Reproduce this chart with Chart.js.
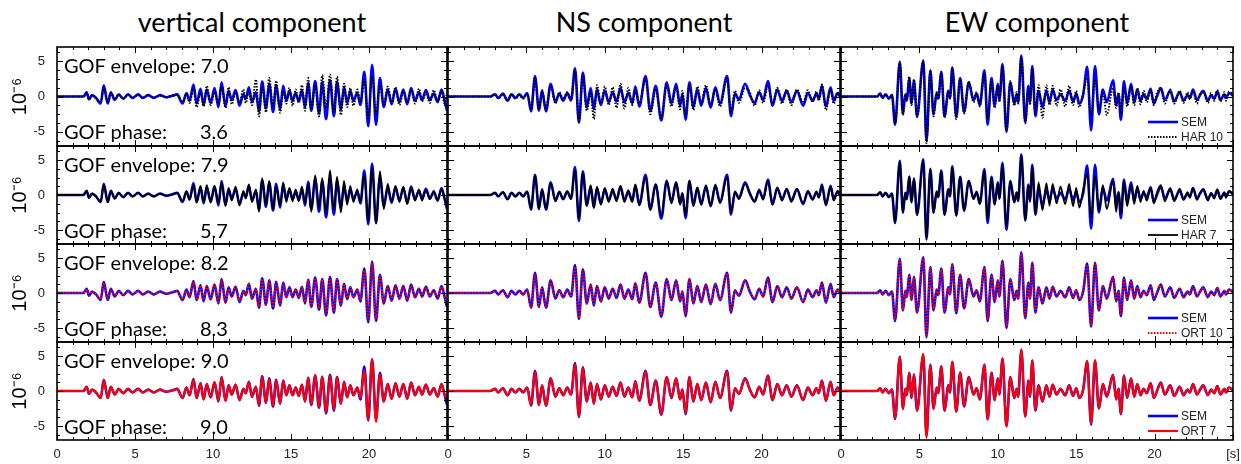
<!DOCTYPE html>
<html>
<head>
<meta charset="utf-8">
<script src="https://cdn.jsdelivr.net/npm/chart.js@4.4.0/dist/chart.umd.min.js"></script>
<style>
  body { margin: 0; background: #fff; }
  #page { position: relative; width: 1241px; height: 464px; overflow: hidden; font-family: Lato, "Open Sans", sans-serif; }
  canvas { position: absolute; }
  .title { position: absolute; top: 6px; font-size: 27px; line-height: 32px; transform: translateX(-50%); white-space: nowrap; }
  .gof { position: absolute; left: 64px; font-size: 20px; line-height: 22px; white-space: nowrap; }
  .gof span { position: absolute; left: 136px; }
</style>
</head>
<body>
<div id="page"></div>
<script>
// time of each extremum (s) and amplitude (x 10^-6)
const vertTime = [0,1.7,1.9,2.05,2.25,2.5,2.8,3.0,3.25,3.45,
  3.7,3.95,4.25,4.55,4.85,5.2,5.5,5.85,6.2,6.6,
  7.0,7.4,7.7,8.05,8.3,8.5,8.75,8.95,9.2,9.4,
  9.6,9.85,10.1,10.35,10.55,10.8,11.0,11.2,11.45,11.7,
  11.95,12.1,12.3,12.5,12.75,12.95,13.15,13.4,13.6,13.85,
  14.05,14.3,14.5,14.7,14.9,15.1,15.3,15.5,15.7,15.9,
  16.1,16.3,16.55,16.8,17.0,17.25,17.5,17.75,17.95,18.2,
  18.4,18.6,18.8,19.0,19.25,19.45,19.7,19.95,20.2,20.45,
  20.7,20.95,21.2,21.45,21.7,21.95,22.2,22.45,22.7,22.95,
  23.2,23.4,23.65,23.9,24.15,24.4,24.65,24.85,25];
const vertSEM = [0,0,0.6,-0.4,0.2,-0.2,-1.0,1.6,-1.0,0.6,
  -0.5,0.3,-0.3,0.3,-0.2,0.3,-0.2,0.2,-0.2,0.2,
  -0.1,0.1,0.3,-1.0,0.5,-0.6,1.7,-1.0,1.1,-1.2,
  1.0,-0.9,1.2,-1.5,2.0,-1.4,0.8,-0.5,0.9,-1.3,
  0.3,-0.3,1.3,-0.8,0.6,-2.1,2.1,-1.7,1.8,-2.2,
  1.6,-1.8,1.5,-0.6,0.8,-0.6,0.5,-0.7,0.9,-1.5,
  1.9,-2.0,2.2,-2.4,2.0,-3.2,2.3,-2.8,2.0,-1.8,
  1.3,-0.9,0.8,-0.6,0.5,-1.2,3.5,-4.2,4.5,-4.0,
  2.6,-1.5,1.0,-1.1,1.1,-0.8,1.0,-1.1,1.2,-0.6,
  0.6,-0.5,0.9,-0.5,0.4,-0.8,1.0,-0.6,-2.0];
const vertHAR10 = [0,0,0.5,-0.4,0.2,-0.2,-0.8,1.3,-0.9,0.5,
  -0.4,0.3,-0.3,0.2,-0.2,0.2,-0.2,0.2,-0.1,0.1,
  -0.1,0.2,0.2,-0.8,0.4,-0.9,1.2,-1.5,0.6,-1.4,
  1.5,-1.2,0.6,-1.0,1.4,-1.6,1.3,-1.1,0.6,-0.8,
  1.0,-0.9,0.7,-1.2,2.4,-2.8,1.4,-2.2,2.6,-1.5,
  2.2,-2.3,0.8,-1.0,1.2,-1.3,1.0,-0.9,1.6,-2.0,
  2.6,-1.8,1.6,-2.8,3.0,-1.8,3.1,-2.3,2.8,-2.6,
  1.8,-1.5,1.2,-1.3,1.0,-0.8,2.4,-3.0,2.8,-2.6,
  1.6,-1.3,1.4,-0.8,1.3,-1.2,0.7,-0.9,1.0,-1.0,
  1.1,-0.7,0.6,-0.9,0.9,-0.6,0.8,-1.0,0.5];
const vertHAR7 = [0,0,0.6,-0.4,0.2,-0.2,-1.0,1.5,-1.0,0.6,
  -0.5,0.3,-0.3,0.3,-0.2,0.3,-0.2,0.2,-0.2,0.2,
  -0.1,0.1,0.3,-0.9,0.5,-0.7,1.4,-1.1,1.3,-1.0,
  1.4,-1.1,1.3,-1.2,1.8,-1.6,1.0,-0.8,1.2,-1.5,
  0.6,-0.5,1.5,-1.0,0.8,-2.4,2.4,-1.5,2.0,-2.0,
  1.3,-1.5,1.8,-1.0,1.0,-0.9,0.8,-0.9,1.2,-1.2,
  1.6,-2.4,2.8,-1.8,2.4,-2.6,3.5,-2.3,2.6,-2.5,
  2.0,-1.4,1.3,-1.0,0.8,-1.0,3.0,-3.8,4.0,-4.1,
  3.4,-2.0,1.6,-1.0,1.3,-1.0,1.2,-1.3,1.0,-0.8,
  0.8,-0.8,0.7,-0.6,0.6,-0.7,0.8,-0.5,-1.5];
const vertORT10 = [0,0,0.6,-0.4,0.2,-0.2,-0.9,1.5,-1.0,0.6,
  -0.5,0.3,-0.3,0.3,-0.2,0.3,-0.2,0.2,-0.2,0.2,
  -0.1,0.1,0.3,-0.9,0.5,-0.6,1.6,-1.0,1.1,-1.1,
  1.0,-0.9,1.1,-1.4,1.9,-1.3,0.8,-0.5,0.9,-1.2,
  0.3,-0.3,1.2,-0.8,0.6,-1.9,2.0,-1.6,1.7,-2.0,
  1.5,-1.7,1.4,-0.6,0.8,-0.6,0.5,-0.7,0.9,-1.4,
  1.8,-1.9,2.1,-2.2,1.9,-3.0,2.2,-2.6,1.9,-1.7,
  1.3,-0.9,0.8,-0.6,0.5,-1.1,3.2,-3.9,4.3,-3.8,
  2.5,-1.4,1.0,-1.0,1.0,-0.8,1.0,-1.0,1.1,-0.6,
  0.6,-0.5,0.8,-0.5,0.4,-0.8,0.9,-0.6,-1.6];
const vertORT7 = [0,0,0.6,-0.4,0.2,-0.2,-1.0,1.6,-1.0,0.6,
  -0.5,0.3,-0.3,0.3,-0.2,0.3,-0.2,0.2,-0.2,0.2,
  -0.1,0.1,0.3,-1.0,0.5,-0.6,1.6,-1.0,1.1,-1.2,
  1.0,-0.9,1.3,-1.4,2.0,-1.4,0.8,-0.5,0.9,-1.3,
  0.3,-0.3,1.3,-0.8,0.6,-2.0,2.0,-1.7,1.7,-2.1,
  1.5,-1.8,1.5,-0.6,0.8,-0.6,0.5,-0.7,0.9,-1.5,
  1.9,-2.0,2.3,-2.3,2.1,-3.1,2.2,-2.7,2.0,-1.8,
  1.3,-0.9,0.8,-0.6,0.5,-1.0,3.0,-4.0,4.6,-4.4,
  2.4,-1.5,1.0,-1.1,1.1,-0.8,1.0,-1.1,1.2,-0.6,
  0.6,-0.5,0.9,-0.5,0.4,-0.8,1.0,-0.6,-1.0];

const nsTime = [0,2.7,3.0,3.2,3.5,3.8,4.05,4.3,4.55,4.8,
  5.05,5.3,5.55,5.8,6.0,6.25,6.55,6.85,7.1,7.35,
  7.6,7.85,8.1,8.35,8.6,8.85,9.1,9.3,9.5,9.75,
  10.0,10.25,10.5,10.75,11.0,11.25,11.5,11.75,11.95,12.2,
  12.6,12.9,13.25,13.6,13.95,14.25,14.55,14.8,14.95,15.15,
  15.4,15.65,15.9,16.15,16.45,16.75,17.05,17.35,17.8,18.05,
  18.3,18.55,18.95,19.25,19.55,19.85,20.1,20.4,20.7,21.0,
  21.3,21.6,21.9,22.25,22.65,22.95,23.25,23.5,23.65,23.85,
  24.1,24.4,24.6,24.85,25];
const nsSEM = [0,0,0.3,-0.2,0.4,-0.6,0.3,-0.2,0.3,-0.2,
  0.5,-2.1,2.9,-2.0,0.8,-2.1,1.8,-0.8,0.4,-0.6,
  0.5,-0.5,4.0,-3.7,3.4,-1.5,1.2,-1.8,1.0,-1.2,
  0.8,-0.8,0.6,-0.7,1.2,-0.8,0.5,-0.9,1.4,-1.4,
  2.9,-2.0,1.5,-3.4,2.0,-1.0,1.8,-1.2,0.2,-3.3,
  2.0,-1.5,1.0,-1.3,1.2,-1.6,1.3,-1.0,2.9,-2.8,
  0.4,-0.4,1.8,0.2,-0.9,0.6,-0.5,2.2,-1.3,1.0,
  -0.6,0.8,-0.8,0.8,-1.3,0.5,-0.6,0.4,-0.3,1.5,
  -1.4,1.3,-0.6,0.5,0];
const nsHAR10 = [0,0,0.3,-0.3,0.3,-0.5,0.3,-0.3,0.2,-0.3,
  0.4,-1.8,2.6,-1.8,0.9,-1.8,1.5,-1.0,0.6,-0.4,
  0.6,-0.6,3.6,-3.5,3.0,-2.0,0.6,-3.2,1.6,-1.0,
  1.4,-1.2,1.3,-1.6,1.8,-1.7,1.2,-1.2,0.8,-1.0,
  2.5,-2.5,1.0,-3.0,1.6,-1.4,1.4,-1.8,0.8,-2.6,
  1.6,-1.9,1.4,-0.9,1.6,-1.2,1.0,-1.4,2.5,-2.2,
  0.8,-0.9,1.2,0.6,-1.3,0.9,-0.9,1.5,-1.0,1.2,
  -1.0,1.0,-1.2,1.0,-0.9,0.9,-0.8,0.7,-0.6,1.7,
  -1.9,1.0,-1.0,0.6,0];
const nsHAR7 = [0,0,0.3,-0.2,0.4,-0.6,0.3,-0.2,0.3,-0.2,
  0.5,-2.0,2.8,-2.0,0.8,-2.0,1.7,-0.9,0.5,-0.6,
  0.5,-0.6,3.6,-3.4,3.2,-1.6,1.4,-1.8,1.2,-1.4,
  1.0,-1.0,0.9,-0.9,1.3,-1.0,0.7,-1.0,1.5,-1.5,
  2.6,-2.2,1.5,-3.0,2.1,-1.2,1.8,-1.4,0.3,-2.9,
  2.1,-1.6,1.1,-1.4,1.4,-1.6,1.5,-1.2,2.6,-2.5,
  0.5,-0.6,1.6,0.3,-1.0,0.8,-0.7,2.0,-1.4,1.1,
  -0.8,0.9,-1.0,0.9,-1.2,0.6,-0.7,0.5,-0.4,1.3,
  -1.5,1.2,-0.8,0.6,0];
const nsORT10 = [0,0,0.3,-0.2,0.4,-0.6,0.3,-0.2,0.3,-0.2,
  0.5,-2.0,2.7,-1.9,0.8,-2.0,1.7,-0.8,0.4,-0.6,
  0.5,-0.5,3.7,-3.5,3.2,-1.5,1.2,-1.7,1.0,-1.2,
  0.8,-0.8,0.6,-0.7,1.2,-0.8,0.5,-0.9,1.4,-1.4,
  2.7,-1.9,1.4,-3.2,1.9,-1.0,1.7,-1.2,0.2,-3.1,
  1.9,-1.4,1.0,-1.3,1.2,-1.5,1.3,-1.0,2.8,-2.6,
  0.4,-0.4,1.7,0.2,-0.9,0.6,-0.5,2.1,-1.3,1.0,
  -0.6,0.8,-0.8,0.8,-1.2,0.5,-0.6,0.4,-0.3,1.4,
  -1.3,1.2,-0.6,0.5,0];
const nsORT7 = [0,0,0.3,-0.2,0.4,-0.6,0.3,-0.2,0.3,-0.2,
  0.5,-2.0,2.8,-2.0,0.8,-2.1,1.8,-0.8,0.4,-0.6,
  0.5,-0.5,3.8,-3.6,3.3,-1.5,1.2,-1.8,1.0,-1.2,
  0.8,-0.8,0.6,-0.7,1.2,-0.8,0.5,-0.9,1.4,-1.4,
  2.8,-2.0,1.5,-3.3,2.0,-1.0,1.8,-1.2,0.2,-3.2,
  2.0,-1.5,1.0,-1.3,1.2,-1.6,1.3,-1.0,2.8,-2.7,
  0.4,-0.4,1.8,0.2,-0.9,0.6,-0.5,2.2,-1.3,1.0,
  -0.6,0.8,-0.8,0.8,-1.3,0.5,-0.6,0.4,-0.3,1.5,
  -1.4,1.3,-0.6,0.5,0];

const ewTime = [0,2.3,2.5,2.65,2.85,3.05,3.25,3.45,3.75,3.95,
  4.1,4.2,4.35,4.5,4.65,4.85,5.25,5.45,5.7,5.9,
  6.1,6.2,6.4,6.6,6.85,6.95,7.1,7.35,7.6,7.85,
  8.15,8.45,8.65,8.85,9.15,9.35,9.6,9.8,10.0,10.1,
  10.3,10.55,10.8,11.05,11.2,11.3,11.5,11.75,11.95,12.05,
  12.2,12.4,12.6,12.85,13.1,13.3,13.5,13.75,14.0,14.3,
  14.55,14.8,15.0,15.2,15.45,15.7,15.95,16.2,16.45,16.7,
  16.95,17.35,17.55,17.7,17.85,18.05,18.25,18.5,18.7,18.9,
  19.1,19.3,19.5,19.75,19.95,20.15,20.4,20.65,21.0,21.25,
  21.6,21.85,22.1,22.25,22.45,22.7,22.9,23.1,23.4,23.6,
  23.8,24.0,24.2,24.45,24.55,24.75,25];
const ewSEM = [0,0,0.4,-0.2,0.3,-0.3,0.2,-4.0,4.9,-2.5,
  0.3,-0.6,2.6,-1.0,2.3,-2.8,5.1,-6.3,3.7,-2.5,
  0.5,-0.3,3.5,-2.8,0.8,-0.2,4.1,-2.9,2.6,-2.2,
  2.0,-0.5,0.4,-1.2,3.7,-4.0,2.6,-1.3,1.8,-0.5,
  4.6,-5.0,2.0,-1.0,0.3,-0.8,5.8,-3.6,1.5,-0.8,
  4.3,-2.8,0.8,-1.5,0.8,-0.8,0.9,-0.5,0.3,-0.6,
  0.8,-0.7,0.4,-1.0,0.3,4.2,-4.8,4.3,-2.5,1.0,
  -0.8,2.3,-1.2,0.3,-3.3,2.2,-1.0,1.8,-0.8,1.0,
  -0.6,0.3,-0.3,1.1,-1.0,0.0,1.2,-0.5,0.8,-0.7,
  0.6,-0.6,0.2,-0.2,1.0,-0.5,0.2,0.8,-0.6,0.2,
  -0.3,0.7,-0.5,0.3,-0.2,0.5,0.1];
const ewHAR10 = [0,0,0.4,-0.2,0.3,-0.3,0.2,-3.8,4.7,-2.6,
  0.3,-0.5,2.8,-1.2,2.4,-2.9,5.0,-6.6,3.5,-2.8,
  0.6,-0.4,3.2,-3.0,0.7,-0.3,4.0,-3.2,2.4,-2.4,
  2.1,-0.8,0.6,-1.4,3.3,-3.2,2.2,-1.6,1.5,-0.8,
  4.2,-4.8,2.2,-1.3,0.6,-1.0,5.4,-3.8,1.0,-1.2,
  3.8,-2.5,1.6,-3.0,1.6,-1.2,1.5,-1.3,1.0,-1.4,
  1.5,-1.2,0.8,-1.5,0.6,2.6,-2.6,2.4,-1.8,0.6,
  -2.6,1.2,-1.6,0.6,-2.4,1.4,-1.4,1.5,-1.2,1.2,
  -1.1,0.8,-0.8,0.9,-1.2,0.5,1.2,-1.0,1.0,-1.0,
  0.8,-0.9,0.6,-0.4,0.8,-1.0,0.4,0.7,-0.9,0.5,
  -0.6,0.9,-0.7,0.6,-0.6,0.7,0.2];
const ewHAR7 = [0,0,0.4,-0.2,0.3,-0.3,0.2,-3.9,4.8,-2.6,
  0.3,-0.6,2.7,-1.1,2.4,-2.9,5.0,-6.4,3.8,-2.6,
  0.5,-0.3,3.4,-2.9,0.8,-0.2,4.0,-3.0,2.6,-2.3,
  2.0,-0.6,0.5,-1.3,3.5,-3.6,2.5,-1.4,1.7,-0.6,
  4.3,-4.7,2.0,-1.1,0.4,-0.9,5.6,-3.7,1.4,-1.0,
  4.0,-2.8,1.8,-2.2,1.7,-1.5,1.6,-1.2,1.2,-1.3,
  1.6,-1.6,1.0,-1.8,0.8,3.0,-3.2,2.8,-2.2,1.4,
  -2.0,2.0,-2.4,0.5,-2.6,2.0,-1.6,1.4,-1.3,1.3,
  -1.0,0.6,-0.8,1.0,-1.2,0.4,1.4,-0.9,1.0,-0.9,
  0.9,-0.7,0.4,-0.4,1.0,-0.7,0.3,0.8,-0.8,0.3,
  -0.5,0.8,-0.6,0.4,-0.4,0.6,0.1];
const ewORT10 = [0,0,0.4,-0.2,0.3,-0.3,0.2,-3.8,4.7,-2.4,
  0.3,-0.6,2.5,-1.0,2.2,-2.7,4.9,-6.1,3.6,-2.4,
  0.5,-0.3,3.4,-2.7,0.8,-0.2,4.0,-2.8,2.5,-2.1,
  1.9,-0.5,0.4,-1.1,3.6,-3.8,2.5,-1.2,1.7,-0.5,
  4.4,-4.8,1.9,-1.0,0.3,-0.8,5.6,-3.5,1.4,-0.8,
  4.1,-2.7,0.8,-1.4,0.8,-0.7,0.9,-0.5,0.3,-0.6,
  0.8,-0.7,0.4,-0.9,0.3,4.0,-4.6,4.1,-2.4,1.0,
  -0.8,2.2,-1.1,0.3,-3.1,2.1,-1.0,1.7,-0.8,0.9,
  -0.6,0.3,-0.3,1.0,-0.9,0.0,1.1,-0.5,0.8,-0.6,
  0.6,-0.5,0.2,-0.2,0.9,-0.5,0.2,0.7,-0.6,0.2,
  -0.3,0.6,-0.5,0.3,-0.2,0.5,0.1];
const ewORT7 = [0,0,0.4,-0.2,0.3,-0.3,0.2,-3.9,4.9,-2.6,
  0.3,-0.6,2.6,-1.0,2.4,-2.8,5.3,-6.7,3.8,-2.6,
  0.5,-0.3,3.6,-2.8,0.8,-0.2,4.2,-3.0,2.7,-2.2,
  2.0,-0.5,0.4,-1.2,3.8,-4.1,2.6,-1.3,1.8,-0.5,
  4.7,-5.1,2.0,-1.0,0.3,-0.8,6.0,-3.7,1.5,-0.8,
  4.4,-2.8,0.8,-1.5,0.8,-0.8,0.9,-0.5,0.3,-0.6,
  0.8,-0.7,0.4,-1.0,0.3,4.3,-4.6,4.4,-2.5,1.0,
  -0.8,2.3,-1.2,0.3,-3.3,2.2,-1.0,1.8,-0.8,1.0,
  -0.6,0.3,-0.3,1.1,-1.0,0.0,1.2,-0.5,0.8,-0.7,
  0.6,-0.6,0.2,-0.2,1.0,-0.5,0.2,0.8,-0.6,0.2,
  -0.3,0.7,-0.5,0.3,-0.2,0.5,0.1];

const componentTitles = ['vertical component', 'NS component', 'EW component'];
const modelLabels = ['HAR 10', 'HAR 7', 'ORT 10', 'ORT 7'];
const gofEnvelope = ['7.0', '7.9', '8.2', '9.0'];
const gofPhase = ['3.6', '5.7', '8.3', '9.0'];
const xTickValues = [0, 5, 10, 15, 20, 25];
const yTickValues = [-5, 0, 5];

const times = [vertTime, nsTime, ewTime];
const semTraces = [vertSEM, nsSEM, ewSEM];
const modelTraces = [
  [vertHAR10, nsHAR10, ewHAR10],
  [vertHAR7, nsHAR7, ewHAR7],
  [vertORT10, nsORT10, ewORT10],
  [vertORT7, nsORT7, ewORT7]
];
const modelStyles = [
  { color: '#000000', dash: [1.5, 1.5], width: 2 },
  { color: '#000000', dash: [], width: 1.8 },
  { color: '#ff0000', dash: [1.5, 1.5], width: 2 },
  { color: '#ff0000', dash: [], width: 2.2 }
];

// panel frames in page pixels
const colLeft = [57, 448, 841], colRight = [447, 840, 1233];
const rowTop = [47, 146, 244, 342], rowBottom = [146, 244, 342, 440];
const M = 10;

const pts = (ts, vs) => ts.map((t, i) => ({ x: t, y: vs[i] }));

// inward ticks + frame
const frameTicks = {
  id: 'frameTicks',
  afterDatasetsDraw(chart) {
    const { ctx, chartArea: a, scales: { x, y } } = chart;
    ctx.save();
    ctx.strokeStyle = '#000';
    ctx.lineWidth = 1;
    ctx.beginPath();
    for (let t = 0; t <= 25; t++) {
      const px = Math.round(x.getPixelForValue(t)) + 0.5;
      const len = t % 5 === 0 ? 6 : 3;
      ctx.moveTo(px, a.top); ctx.lineTo(px, a.top + len);
      ctx.moveTo(px, a.bottom); ctx.lineTo(px, a.bottom - len);
    }
    for (let k = -5; k <= 5; k++) {
      const v = k * 1.25;
      const py = Math.round(y.getPixelForValue(v)) + 0.5;
      const len = k % 4 === 0 ? 6 : 3;
      ctx.moveTo(a.left, py); ctx.lineTo(a.left + len, py);
      ctx.moveTo(a.right, py); ctx.lineTo(a.right - len, py);
    }
    ctx.stroke();
    ctx.lineWidth = 1.6;
    ctx.strokeRect(a.left, a.top, a.right - a.left, a.bottom - a.top);
    ctx.restore();
  }
};

// small legend in the lower right corner of the EW panels
const cornerLegend = {
  id: 'cornerLegend',
  afterDatasetsDraw(chart, args, opts) {
    if (!opts.show) return;
    const { ctx, chartArea: a } = chart;
    const entries = [chart.data.datasets[1], chart.data.datasets[0]];
    ctx.save();
    entries.forEach((ds, i) => {
      const yy = a.bottom - 24 + i * 15;
      ctx.strokeStyle = ds.borderColor;
      ctx.lineWidth = ds.borderWidth;
      ctx.setLineDash(ds.borderDash || []);
      ctx.beginPath();
      ctx.moveTo(a.right - 85, yy);
      ctx.lineTo(a.right - 55, yy);
      ctx.stroke();
      ctx.setLineDash([]);
      ctx.fillStyle = '#222';
      ctx.font = '12px "Liberation Sans", Arial, sans-serif';
      ctx.textBaseline = 'middle';
      ctx.fillText(ds.label, a.right - 52, yy + 1);
    });
    ctx.restore();
  }
};

const page = document.getElementById('page');

componentTitles.forEach((t, c) => {
  const d = document.createElement('div');
  d.className = 'title';
  d.textContent = t;
  d.style.left = ((colLeft[c] + colRight[c]) / 2) + 'px';
  page.appendChild(d);
});

for (let r = 0; r < 4; r++) {
  for (let c = 0; c < 3; c++) {
    const left = c === 0 ? 0 : colLeft[c] - M;
    const right = Math.min(colRight[c] + M, 1241);
    const top = rowTop[r] - M;
    const bottom = r === 3 ? 464 : rowBottom[r] + M;
    const cv = document.createElement('canvas');
    cv.width = right - left;
    cv.height = bottom - top;
    cv.style.left = left + 'px';
    cv.style.top = top + 'px';
    page.appendChild(cv);

    const st = modelStyles[r];
    const showX = r === 3, showY = c === 0;
    new Chart(cv, {
      type: 'line',
      data: {
        datasets: [
          {
            label: modelLabels[r],
            data: pts(times[c], modelTraces[r][c]),
            borderColor: st.color,
            borderWidth: st.width,
            borderDash: st.dash,
            order: 0
          },
          {
            label: 'SEM',
            data: pts(times[c], semTraces[c]),
            borderColor: '#0000ff',
            borderWidth: 2.6,
            order: 1
          }
        ]
      },
      options: {
        responsive: false,
        animation: false,
        devicePixelRatio: 1,
        events: [],
        layout: {
          padding: {
            left: showY ? 0 : colLeft[c] - left,
            right: right - colRight[c],
            top: M,
            bottom: showX ? 0 : M
          }
        },
        elements: {
          point: { radius: 0 },
          line: { cubicInterpolationMode: 'monotone', borderJoinStyle: 'round' }
        },
        plugins: {
          legend: { display: false },
          tooltip: { enabled: false },
          cornerLegend: { show: c === 2 }
        },
        scales: {
          x: {
            type: 'linear',
            min: 0,
            max: 25,
            display: showX,
            grid: { display: false, drawTicks: false },
            border: { display: false },
            afterBuildTicks: s => { s.ticks = xTickValues.map(v => ({ value: v })); },
            afterFit: s => {
              if (!showX) return;
              s.height = 464 - rowBottom[3]; s.paddingLeft = 0; s.paddingRight = 0;
            },
            ticks: {
              padding: 7,
              color: '#222',
              font: { size: 13, family: '"Liberation Sans", Arial, sans-serif' },
              maxRotation: 0,
              callback: v => v === 25 ? (c === 2 ? '[s]' : '') : String(v)
            }
          },
          y: {
            type: 'linear',
            min: -7,
            max: 7,
            display: showY,
            grid: { display: false, drawTicks: false },
            border: { display: false },
            afterBuildTicks: s => { s.ticks = yTickValues.map(v => ({ value: v })); },
            afterFit: s => {
              if (!showY) return;
              s.width = colLeft[0]; s.paddingTop = 0; s.paddingBottom = 0;
            },
            ticks: {
              padding: 12,
              color: '#222',
              font: { size: 13, family: '"Liberation Sans", Arial, sans-serif' }
            },
            title: {
              display: true,
              text: '10⁻⁶',
              color: '#000',
              font: { size: 20, family: '"Liberation Sans", Arial, sans-serif' },
              padding: { top: 8, bottom: 0 }
            }
          }
        }
      },
      plugins: [frameTicks, cornerLegend]
    });
  }

  const env = document.createElement('div');
  env.className = 'gof';
  env.style.top = (rowTop[r] + 7) + 'px';
  env.textContent = 'GOF envelope: ' + gofEnvelope[r];
  page.appendChild(env);
  const ph = document.createElement('div');
  ph.className = 'gof';
  ph.style.top = (rowTop[r] + 73) + 'px';
  ph.innerHTML = 'GOF phase:<span>' + gofPhase[r] + '</span>';
  page.appendChild(ph);
}
</script>
</body>
</html>
